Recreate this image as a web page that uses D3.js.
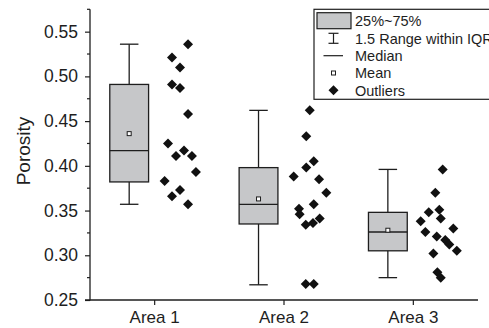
<!DOCTYPE html>
<html>
<head>
<meta charset="utf-8">
<script src="https://cdn.jsdelivr.net/npm/d3@7"></script>
<style>
  html, body { margin: 0; padding: 0; background: #fff; }
  svg { display: block; font-family: "Liberation Sans", Arial, sans-serif; }
</style>
</head>
<body>
<svg id="chart" width="489" height="328"></svg>
<script>
// Porosity by area: box statistics plus the individual samples
const categories = ["Area 1", "Area 2", "Area 3"];

// Box statistics per area
const whiskerLow  = [0.357, 0.267, 0.275];
const q1          = [0.382, 0.335, 0.305];
const median      = [0.417, 0.357, 0.326];
const mean        = [0.436, 0.363, 0.328];
const q3          = [0.491, 0.398, 0.348];
const whiskerHigh = [0.536, 0.462, 0.396];

// Individual samples per area
const samplesArea1 = [0.536, 0.521, 0.510, 0.491, 0.487, 0.458, 0.425, 0.411, 0.417, 0.411, 0.393, 0.383, 0.373, 0.366, 0.357];
const samplesArea2 = [0.462, 0.433, 0.405, 0.398, 0.388, 0.385, 0.370, 0.357, 0.352, 0.346, 0.341, 0.336, 0.334, 0.268, 0.268];
const samplesArea3 = [0.396, 0.370, 0.348, 0.351, 0.338, 0.341, 0.330, 0.326, 0.321, 0.317, 0.312, 0.305, 0.302, 0.281, 0.275];

// Horizontal jitter of each sample, as a fraction of the category width
const jitterArea1 = [0.258, 0.134, 0.196, 0.134, 0.196, 0.258, 0.103, 0.165, 0.227, 0.288, 0.319, 0.077, 0.196, 0.134, 0.258];
const jitterArea2 = [0.199, 0.172, 0.230, 0.172, 0.075, 0.271, 0.327, 0.230, 0.116, 0.121, 0.276, 0.224, 0.168, 0.168, 0.230];
const jitterArea3 = [0.227, 0.170, 0.119, 0.201, 0.057, 0.212, 0.309, 0.093, 0.181, 0.247, 0.278, 0.336, 0.155, 0.186, 0.212];

const yTicks = [0.25, 0.30, 0.35, 0.40, 0.45, 0.50, 0.55];
const yMinorTicks = [0.275, 0.325, 0.375, 0.425, 0.475, 0.525, 0.575];

const legendLabels = ["25%~75%", "1.5 Range within IQR", "Median", "Mean", "Outliers"];

const samples = [samplesArea1, samplesArea2, samplesArea3];
const jitters = [jitterArea1, jitterArea2, jitterArea3];

const ink = "#1e1e1e";
const boxFill = "#c6c7c9";

const svg = d3.select("#chart");
const plot = { left: 90, right: 478, top: 9.3, bottom: 300 };

const x = d3.scaleBand().domain(categories).range([plot.left, plot.right]).padding(0);
const y = d3.scaleLinear().domain([0.25, 0.575]).range([plot.bottom, plot.top]);
const bw = x.bandwidth();

const boxOffset = -0.197 * bw;   // box sits left of the category centre
const boxWidth = 0.30 * bw;
const capWidth = 0.143 * bw;

const diamond = r => `M0,${-r}L${r},0L0,${r}L${-r},0Z`;

// Axes
const yAxis = d3.axisLeft(y).tickValues(yTicks).tickFormat(d3.format(".2f"))
  .tickSize(5).tickPadding(7).tickSizeOuter(0);
const gy = svg.append("g").attr("transform", `translate(${plot.left},0)`).call(yAxis);
gy.select(".domain").remove();
gy.selectAll("text").attr("font-size", 17.5).attr("fill", ink).attr("font-family", null);
gy.selectAll("line").attr("stroke", ink).attr("stroke-width", 1.2);

svg.append("g").selectAll("line").data(yMinorTicks).join("line")
  .attr("x1", plot.left - 3).attr("x2", plot.left)
  .attr("y1", d => y(d)).attr("y2", d => y(d))
  .attr("stroke", ink).attr("stroke-width", 1.2);

const xAxis = d3.axisBottom(x).tickSize(5).tickPadding(6).tickSizeOuter(0);
const gx = svg.append("g").attr("transform", `translate(0,${plot.bottom})`).call(xAxis);
gx.select(".domain").remove();
gx.selectAll("text").attr("font-size", 17).attr("fill", ink).attr("font-family", null);
gx.selectAll("line").attr("stroke", ink).attr("stroke-width", 1.2);

// Axis lines
svg.append("line").attr("x1", plot.left).attr("x2", plot.left)
  .attr("y1", y(0.575)).attr("y2", plot.bottom + 0.6)
  .attr("stroke", ink).attr("stroke-width", 1.3);
svg.append("line").attr("x1", plot.left - 5).attr("x2", plot.right)
  .attr("y1", plot.bottom).attr("y2", plot.bottom)
  .attr("stroke", ink).attr("stroke-width", 1.3);

svg.append("text")
  .attr("transform", `translate(29.5,151) rotate(-90)`)
  .attr("text-anchor", "middle").attr("font-size", 19).attr("fill", ink)
  .text("Porosity");

// Boxes
const boxes = svg.append("g").selectAll("g").data(categories).join("g")
  .attr("transform", d => `translate(${x(d) + bw / 2 + boxOffset},0)`);

boxes.append("line").attr("x1", 0).attr("x2", 0)
  .attr("y1", (d, i) => y(whiskerHigh[i])).attr("y2", (d, i) => y(whiskerLow[i]))
  .attr("stroke", ink).attr("stroke-width", 1.3);
boxes.append("line").attr("x1", -capWidth / 2).attr("x2", capWidth / 2)
  .attr("y1", (d, i) => y(whiskerHigh[i])).attr("y2", (d, i) => y(whiskerHigh[i]))
  .attr("stroke", ink).attr("stroke-width", 1.3);
boxes.append("line").attr("x1", -capWidth / 2).attr("x2", capWidth / 2)
  .attr("y1", (d, i) => y(whiskerLow[i])).attr("y2", (d, i) => y(whiskerLow[i]))
  .attr("stroke", ink).attr("stroke-width", 1.3);
boxes.append("rect").attr("x", -boxWidth / 2).attr("width", boxWidth)
  .attr("y", (d, i) => y(q3[i])).attr("height", (d, i) => y(q1[i]) - y(q3[i]))
  .attr("fill", boxFill).attr("stroke", ink).attr("stroke-width", 1.3);
boxes.append("line").attr("x1", -boxWidth / 2).attr("x2", boxWidth / 2)
  .attr("y1", (d, i) => y(median[i])).attr("y2", (d, i) => y(median[i]))
  .attr("stroke", ink).attr("stroke-width", 1.3);
boxes.append("rect").attr("x", -2).attr("width", 4)
  .attr("y", (d, i) => y(mean[i]) - 2).attr("height", 4)
  .attr("fill", "#fff").attr("stroke", ink).attr("stroke-width", 1);

// Samples
const points = categories.flatMap((c, i) =>
  samples[i].map((v, j) => ({ c, v, jit: jitters[i][j] })));
svg.append("g").selectAll("path").data(points).join("path")
  .attr("d", diamond(5))
  .attr("transform", d => `translate(${x(d.c) + bw / 2 + d.jit * bw},${y(d.v)})`)
  .attr("fill", "#111");

// Legend
const lg = svg.append("g");
lg.append("rect").attr("x", 314).attr("y", 9.3).attr("width", 200).attr("height", 90)
  .attr("fill", "#fff").attr("stroke", ink).attr("stroke-width", 1.2);
const rowY = [20.7, 38.3, 55.7, 73, 90.3];
const iconX = 333.5;
lg.append("rect").attr("x", 317).attr("y", 12.7).attr("width", 34).attr("height", 16)
  .attr("fill", boxFill).attr("stroke", ink).attr("stroke-width", 1.2);
lg.append("line").attr("x1", iconX).attr("x2", iconX).attr("y1", rowY[1] - 5).attr("y2", rowY[1] + 5)
  .attr("stroke", ink).attr("stroke-width", 1.2);
lg.append("line").attr("x1", iconX - 5).attr("x2", iconX + 5).attr("y1", rowY[1] - 5).attr("y2", rowY[1] - 5)
  .attr("stroke", ink).attr("stroke-width", 1.2);
lg.append("line").attr("x1", iconX - 5).attr("x2", iconX + 5).attr("y1", rowY[1] + 5).attr("y2", rowY[1] + 5)
  .attr("stroke", ink).attr("stroke-width", 1.2);
lg.append("line").attr("x1", iconX - 10).attr("x2", iconX + 9.5).attr("y1", rowY[2]).attr("y2", rowY[2])
  .attr("stroke", ink).attr("stroke-width", 1.2);
lg.append("rect").attr("x", iconX - 2).attr("y", rowY[3] - 2).attr("width", 4).attr("height", 4)
  .attr("fill", "#fff").attr("stroke", ink).attr("stroke-width", 1);
lg.append("path").attr("d", diamond(5)).attr("transform", `translate(${iconX},${rowY[4]})`)
  .attr("fill", "#111");
lg.selectAll("text").data(legendLabels).join("text")
  .attr("x", 355).attr("y", (d, i) => rowY[i]).attr("dy", "0.36em")
  .attr("font-size", 14.5).attr("fill", ink).text(d => d);
</script>
</body>
</html>
